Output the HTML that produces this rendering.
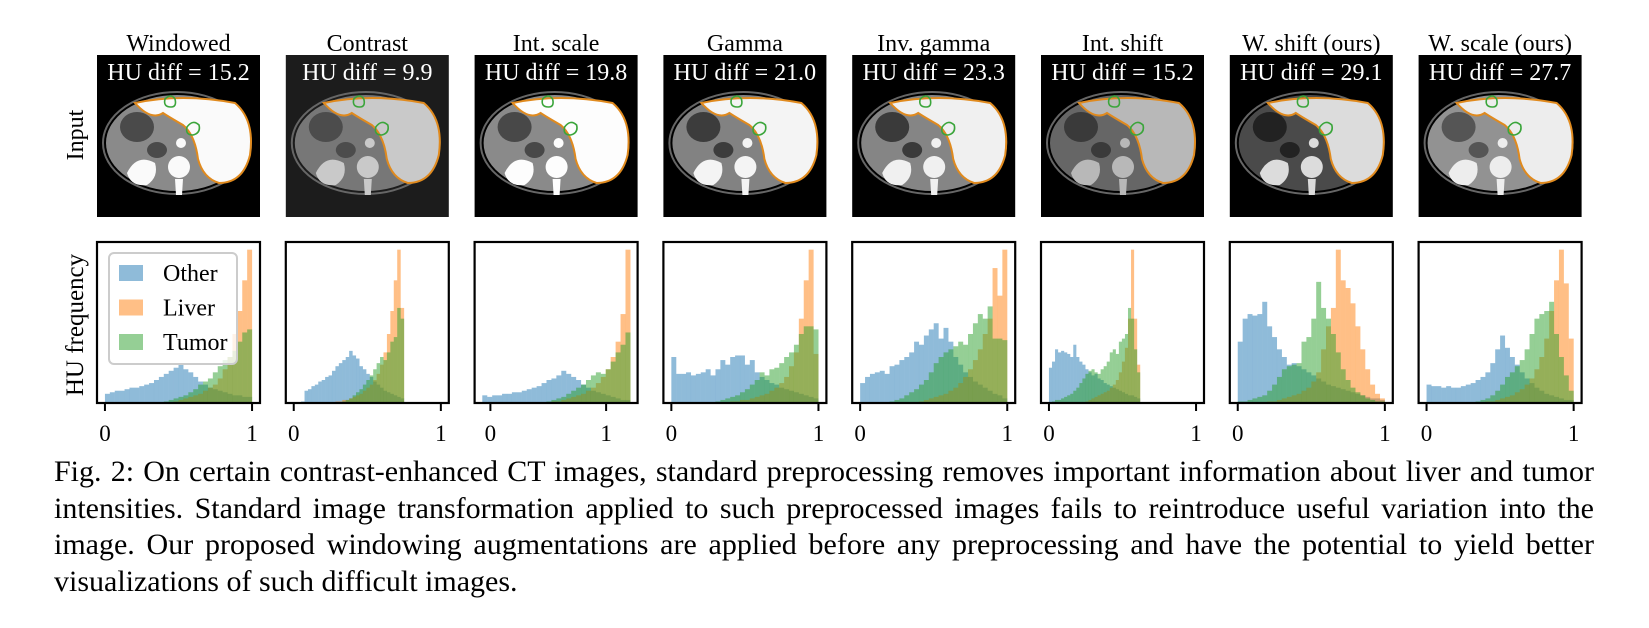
<!DOCTYPE html>
<html><head><meta charset="utf-8">
<style>
html,body{margin:0;padding:0;background:#fff;width:1649px;height:628px;overflow:hidden;}
svg{position:absolute;left:0;top:0;}
.cap{position:absolute;left:54px;width:1540px;font-family:"Liberation Serif",serif;font-size:30px;line-height:36.5px;color:#000;white-space:nowrap;}
.j{text-align:justify;text-align-last:justify;}
</style></head>
<body>
<svg id="fig" width="1649" height="628" viewBox="0 0 1649 628"></svg>
<div class="cap j" style="top:454px">Fig. 2: On certain contrast-enhanced CT images, standard preprocessing removes important information about liver and tumor</div>
<div class="cap j" style="top:490.5px">intensities. Standard image transformation applied to such preprocessed images fails to reintroduce useful variation into the</div>
<div class="cap j" style="top:527px">image. Our proposed windowing augmentations are applied before any preprocessing and have the potential to yield better</div>
<div class="cap" style="top:563.5px">visualizations of such difficult images.</div>
<script>
const titles = ["Windowed","Contrast","Int. scale","Gamma","Inv. gamma","Int. shift","W. shift (ours)","W. scale (ours)"];
const huDiffs = ["15.2","9.9","19.8","21.0","23.3","15.2","29.1","27.7"];
const binLo = [0, 0.05, -0.07, 0, 0, 0, 0, 0];
const binHi = [1, 0.75, 1.21, 1, 1, 0.62, 1, 1];
const xMin = [-0.054,-0.054,-0.1365,-0.054,-0.054,-0.054,-0.054,-0.054];
const xMax = [1.054,1.054,1.272,1.054,1.054,1.054,1.054,1.054];
const xTicks = [0, 1];
const xTickLabels = ["0", "1"];
const seriesNames = ["Other","Liver","Tumor"];
function pad(n, arr){ return new Array(n).fill(0).concat(arr); }
const other1 = [0.06,0.07,0.08,0.08,0.09,0.10,0.10,0.11,0.12,0.13,0.15,0.17,0.19,0.21,0.23,0.25,0.22,0.20,0.17,0.14,0.12,0.10,0.09,0.08,0.07,0.06,0.05,0.05,0.04,0.04];
const liver1 = pad(14,[0.01,0.02,0.03,0.04,0.05,0.06,0.08,0.10,0.12,0.16,0.22,0.30,0.45,0.60,0.80,1.0]);
const tumor1 = pad(12,[0.01,0.02,0.03,0.04,0.05,0.07,0.09,0.12,0.14,0.16,0.20,0.24,0.28,0.30,0.34,0.40,0.46,0.48]);
const other2 = [0.01,0.08,0.09,0.11,0.12,0.14,0.15,0.17,0.18,0.21,0.24,0.26,0.28,0.30,0.34,0.31,0.29,0.24,0.22,0.19,0.17,0.14,0.12,0.10,0.08,0.07,0.06,0.05,0.04,0.03];
const liver2 = pad(10,[0.01,0.01,0.02,0.02,0.03,0.04,0.05,0.06,0.08,0.10,0.12,0.15,0.19,0.25,0.33,0.45,0.60,0.80,1.0,0.62]);
const tumor2 = pad(12,[0.01,0.02,0.03,0.05,0.07,0.09,0.12,0.15,0.18,0.22,0.26,0.30,0.28,0.33,0.40,0.43,0.62,0.55]);
const other3 = [0.05,0.04,0.05,0.05,0.06,0.06,0.07,0.07,0.08,0.09,0.10,0.11,0.13,0.15,0.16,0.18,0.21,0.19,0.17,0.15,0.12,0.10,0.08,0.07,0.06,0.05,0.04,0.03,0.02,0.02];
const liver3 = pad(14,[0.01,0.01,0.02,0.03,0.04,0.05,0.06,0.08,0.10,0.13,0.17,0.22,0.30,0.40,0.58,1.0]);
const tumor3 = pad(13,[0.01,0.02,0.03,0.04,0.06,0.08,0.10,0.12,0.15,0.18,0.20,0.19,0.22,0.27,0.33,0.38,0.46]);
const other4 = [0.30,0.19,0.19,0.20,0.18,0.19,0.20,0.22,0.18,0.22,0.28,0.25,0.30,0.31,0.31,0.25,0.28,0.20,0.17,0.15,0.13,0.12,0.10,0.09,0.08,0.07,0.06,0.05,0.04,0.03];
const liver4 = pad(12,[0.01,0.01,0.02,0.02,0.03,0.04,0.05,0.06,0.08,0.10,0.13,0.17,0.24,0.33,0.55,0.80,1.0,0.32]);
const tumor4 = pad(9,[0.01,0.02,0.03,0.04,0.05,0.07,0.09,0.12,0.15,0.20,0.18,0.22,0.23,0.26,0.30,0.33,0.38,0.45,0.50,0.50,0.48]);
const other5 = [0.13,0.17,0.19,0.20,0.21,0.19,0.24,0.25,0.28,0.30,0.33,0.40,0.38,0.44,0.48,0.52,0.42,0.49,0.40,0.30,0.25,0.20,0.17,0.14,0.12,0.10,0.08,0.06,0.05,0.03];
const liver5 = pad(12,[0.01,0.02,0.03,0.04,0.05,0.06,0.08,0.10,0.13,0.17,0.22,0.28,0.35,0.45,0.55,0.88,0.70,1.0]);
const tumor5 = pad(6,[0.01,0.02,0.03,0.05,0.07,0.09,0.12,0.15,0.20,0.26,0.30,0.33,0.35,0.37,0.40,0.38,0.45,0.52,0.58,0.55,0.63,0.42,0.42,0.41]);
const other6 = [0.23,0.27,0.35,0.33,0.34,0.33,0.32,0.30,0.38,0.30,0.27,0.25,0.22,0.20,0.18,0.19,0.16,0.15,0.13,0.12,0.11,0.10,0.09,0.08,0.07,0.06,0.05,0.05,0.04,0.03];
const liver6 = pad(12,[0.01,0.02,0.03,0.04,0.05,0.06,0.07,0.08,0.10,0.12,0.15,0.20,0.27,0.36,0.55,1.0,0.55,0.25]);
const tumor6 = pad(1,[0.01,0.02,0.02,0.03,0.04,0.05,0.06,0.08,0.10,0.13,0.16,0.19,0.21,0.22,0.20,0.19,0.22,0.24,0.27,0.33,0.35,0.32,0.40,0.42,0.45,0.62,0.55,0.35,0.20]);
const other7 = [0.40,0.55,0.58,0.57,0.58,0.66,0.50,0.43,0.35,0.30,0.25,0.26,0.24,0.22,0.20,0.18,0.16,0.14,0.12,0.11,0.10,0.09,0.08,0.07,0.06,0.05,0.04,0.03,0.03,0.02];
const liver7 = [0,0,0,0,0,0,0.01,0.01,0.02,0.03,0.04,0.05,0.06,0.08,0.10,0.14,0.20,0.35,0.50,0.62,1.0,0.80,0.75,0.65,0.50,0.35,0.22,0.12,0.06,0.03];
const tumor7 = [0.01,0.01,0.02,0.03,0.04,0.05,0.08,0.12,0.17,0.22,0.24,0.25,0.26,0.40,0.43,0.55,0.79,0.62,0.55,0.45,0.33,0.22,0.15,0.10,0.07,0.05,0.03,0.02,0.01,0.01];
const other8 = [0.12,0.11,0.11,0.10,0.11,0.10,0.10,0.11,0.12,0.13,0.15,0.17,0.20,0.26,0.35,0.44,0.36,0.30,0.25,0.20,0.16,0.13,0.10,0.08,0.06,0.05,0.04,0.03,0.02,0.02];
const liver8 = [0,0,0,0,0,0,0,0,0,0,0,0,0.01,0.01,0.02,0.03,0.04,0.05,0.07,0.09,0.12,0.16,0.22,0.30,0.42,0.60,0.80,1.0,0.78,0.42];
const tumor8 = [0,0,0,0,0,0,0,0,0,0,0.01,0.02,0.03,0.05,0.08,0.12,0.17,0.20,0.24,0.28,0.35,0.45,0.55,0.58,0.60,0.66,0.45,0.30,0.18,0.08];
const otherSeries = [other1,other2,other3,other4,other5,other6,other7,other8];
const liverSeries = [liver1,liver2,liver3,liver4,liver5,liver6,liver7,liver8];
const tumorSeries = [tumor1,tumor2,tumor3,tumor4,tumor5,tumor6,tumor7,tumor8];
const yMax = 1.05;

const NS = "http://www.w3.org/2000/svg";
const svg = document.getElementById("fig");
function mk(tag, attrs, parent){
  const e = document.createElementNS(NS, tag);
  for (const k in attrs) e.setAttribute(k, attrs[k]);
  (parent || svg).appendChild(e);
  return e;
}
const FONT = '"Liberation Serif", serif';
const colors = ["#1f77b4","#ff7f0e","#2ca02c"];
const PX0 = 97, PITCH = 188.8, PW = 163;
const IMG_T = 55, IMG_H = 162;
const H_T = 242, H_B = 403;
const ctStyle = [
  ["#000","#8a8a8a","#fafafa","#4a4a4a"],
  ["#1c1c1c","#777","#c9c9c9","#4c4c4c"],
  ["#000","#8a8a8a","#fdfdfd","#484848"],
  ["#000","#828282","#f4f4f4","#3c3c3c"],
  ["#000","#858585","#f0f0f0","#3a3a3a"],
  ["#000","#666","#b8b8b8","#3a3a3a"],
  ["#000","#4a4a4a","#dcdcdc","#222"],
  ["#000","#929292","#ededed","#555"]
];

for (let p = 0; p < 8; p++) {
  const L = PX0 + p * PITCH;
  const g = mk("g", {});
  
  
  const t = mk("text", {x: L + PW/2, y: 51, "text-anchor":"middle", "font-family":FONT, "font-size":24}, g);
  t.textContent = titles[p];
  
  
  const st = ctStyle[p];
  const img = mk("g", {transform:`translate(${L},${IMG_T})`}, g);
  
  
  mk("rect", {x:0,y:0,width:PW,height:IMG_H,fill:st[0]}, img);
  mk("ellipse", {cx:80,cy:88,rx:74,ry:51,fill:"none",stroke:"#666","stroke-width":2}, img);
  mk("ellipse", {cx:80,cy:88,rx:71,ry:48,fill:st[1]}, img);
  mk("ellipse", {cx:40,cy:72,rx:17,ry:15,fill:st[3]}, img);
  mk("ellipse", {cx:60,cy:95,rx:10,ry:8,fill:st[3]}, img);
  mk("path", {d:"M30,118 Q40,98 58,108 Q62,122 50,130 Q34,132 30,118 Z",fill:st[2]}, img);
  mk("circle", {cx:82,cy:112,r:11,fill:st[2]}, img);
  mk("path", {d:"M78,124 L86,124 L85,140 L79,140 Z",fill:st[2]}, img);
  mk("circle", {cx:84,cy:88,r:5,fill:st[2]}, img);
  mk("path", {d:"M38,48 Q85,38 138,48 Q158,65 153,100 Q146,128 122,128 Q106,123 101,104 Q98,80 86,70 Q72,62 66,58 Q54,66 38,48 Z",fill:st[2],stroke:"#e08a1e","stroke-width":2}, img);
  mk("path", {d:"M68,44 q6,-6 10,0 q2,8 -4,8 q-8,0 -6,-8 Z",fill:"none",stroke:"#3aa53a","stroke-width":1.6}, img);
  mk("path", {d:"M90,72 q6,-8 12,-2 q2,8 -6,10 q-8,0 -6,-8 Z",fill:"none",stroke:"#3aa53a","stroke-width":1.6}, img);
  const hu = mk("text", {x: PW/2, y: 25, "text-anchor":"middle", "font-family":FONT, "font-size":24, fill:"#fff"}, img);
  hu.textContent = "HU diff = " + huDiffs[p];
  
  

  const xs = v => L + (v - xMin[p]) / (xMax[p] - xMin[p]) * PW;
  const ys = v => H_B - v / yMax * (H_B - H_T);
  const hist = mk("g", {}, g);
  
  
  const all = [otherSeries[p], liverSeries[p], tumorSeries[p]];
  all.forEach((arr, si) => {
    const sg = mk("g", {fill: colors[si], "fill-opacity": 0.5}, hist);
    
    
    const w = (binHi[p] - binLo[p]) / arr.length;
    arr.forEach((h, i) => {
      if (h <= 0) return;
      const x0 = xs(binLo[p] + i * w), x1 = xs(binLo[p] + (i + 1) * w);
      const r = mk("rect", {x: x0, y: ys(h), width: x1 - x0 + 0.05, height: H_B - ys(h)}, sg);
      
      
    });
  });
  const frame = mk("rect", {x:L, y:H_T, width:PW, height:H_B-H_T, fill:"none", stroke:"#000", "stroke-width":2.2}, g);
  
  
  xTicks.forEach((tv, ti) => {
    const x = xs(tv);
    const tk = mk("line", {x1:x, x2:x, y1:H_B, y2:H_B+8, stroke:"#000", "stroke-width":2}, g);
    
    
    const tl = mk("text", {x:x, y:441, "text-anchor":"middle", "font-family":FONT, "font-size":23}, g);
    tl.textContent = xTickLabels[ti];
    
    
  });
}
const r1 = mk("text", {x:0, y:0, transform:"translate(83,135) rotate(-90)", "text-anchor":"middle", "font-family":FONT, "font-size":24});
r1.textContent = "Input";


const r2 = mk("text", {x:0, y:0, transform:"translate(83,325) rotate(-90)", "text-anchor":"middle", "font-family":FONT, "font-size":25});
r2.textContent = "HU frequency";


const lg = mk("g", {});


mk("rect", {x:109, y:253, width:128, height:111, rx:5, fill:"#fff", "fill-opacity":0.8, stroke:"#cccccc", "stroke-width":2}, lg);
seriesNames.forEach((n, i) => {
  const e = mk("g", {}, lg);
  
  
  mk("rect", {x:119, y:265 + i*34.5, width:24, height:16, fill:colors[i], "fill-opacity":0.5}, e);
  const tx = mk("text", {x:163, y:281 + i*34.5, "font-family":FONT, "font-size":24}, e);
  tx.textContent = n;
});
</script>
</body></html>
